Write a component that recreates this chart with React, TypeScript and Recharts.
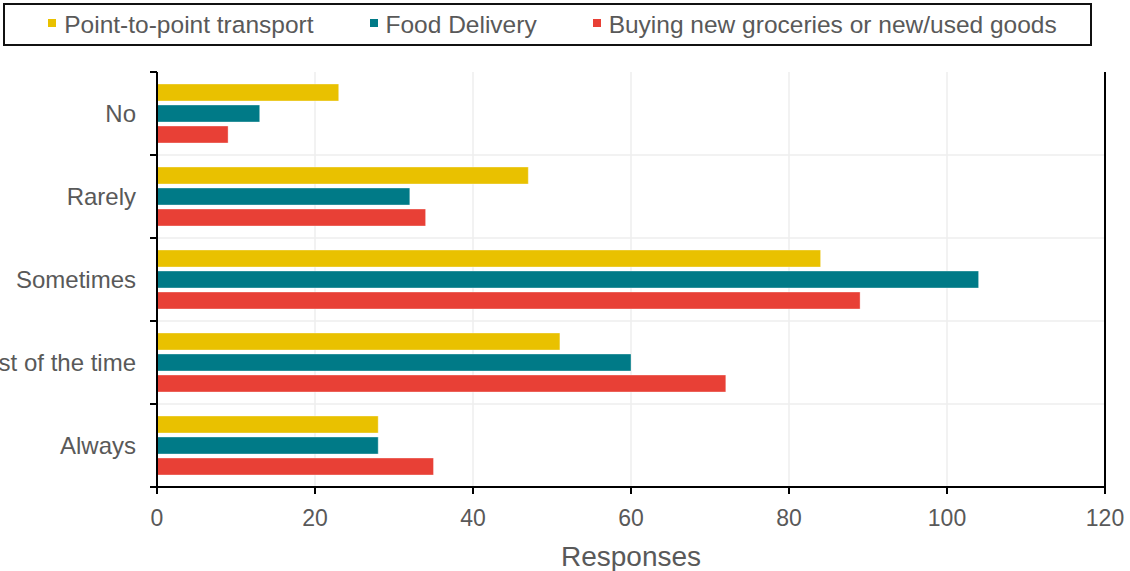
import React from "react";
import {
  BarChart, Bar, XAxis, YAxis, CartesianGrid, ReferenceLine,
} from "recharts";

const categories = ["No", "Rarely", "Sometimes", "Most of the time", "Always"];
const transport = [23, 47, 84, 51, 28];
const delivery = [13, 32, 104, 60, 28];
const goods = [9, 34, 89, 72, 35];
const xTicks = [0, 20, 40, 60, 80, 100, 120];

const SERIES = [
  { key: "transport", name: "Point-to-point transport", color: "#E9C100" },
  { key: "delivery", name: "Food Delivery", color: "#007A87" },
  { key: "goods", name: "Buying new groceries or new/used goods", color: "#E84036" },
];

const data = categories.map((c, i) => ({
  category: c,
  transport: transport[i],
  delivery: delivery[i],
  goods: goods[i],
}));

const W = 1130;
const H = 571;
const M = { top: 72, right: 25, bottom: 0, left: 0 };
const X_AXIS_H = 84;
const Y_AXIS_W = 157;
const BAND = (H - M.top - X_AXIS_H) / categories.length;
const FONT = '"Liberation Sans", Arial, sans-serif';
const TXT = "#595959";

const YTick = ({ x, y, payload, index }: any) => (
  <g>
    <text x={x - 21} y={y} dy="0.36em" textAnchor="end" fontSize={24} fill={TXT} fontFamily={FONT}>
      {payload.value}
    </text>
    <line x1={x - 7} x2={x} y1={y + BAND / 2} y2={y + BAND / 2} stroke="#000" strokeWidth={2} />
    {index === 0 && <line x1={x - 7} x2={x} y1={y - BAND / 2} y2={y - BAND / 2} stroke="#000" strokeWidth={2} />}
  </g>
);

const XTick = ({ x, y, payload }: any) => (
  <text x={x} y={y + 22} dy="0.36em" textAnchor="middle" fontSize={23} fill={TXT} fontFamily={FONT}>
    {payload.value}
  </text>
);

const LegendBox = () => (
  <div style={{
    position: "absolute", left: 3, top: 3, width: 1089, height: 43, boxSizing: "border-box",
    border: "2px solid #111", display: "flex", alignItems: "center", justifyContent: "center",
    gap: 56, fontFamily: FONT, fontSize: 24.5, color: TXT, background: "#fff", paddingLeft: 10,
  }}>
    {SERIES.map((s) => (
      <span key={s.key} style={{ display: "flex", alignItems: "center", gap: 8 }}>
        <span style={{ width: 8, height: 8, background: s.color, display: "inline-block", marginTop: -3 }} />
        {s.name}
      </span>
    ))}
  </div>
);

export default function App() {
  return (
    <div style={{ position: "absolute", left: 0, top: 0, width: W, height: H, background: "#fff" }}>
      <BarChart width={W} height={H} data={data} layout="vertical" margin={M}
        barCategoryGap={12} barGap={4}>
        <CartesianGrid stroke="#eeeeee" strokeWidth={1.5}
          horizontalCoordinatesGenerator={({ offset }: any) =>
            categories.map((_, i) => offset.top + (offset.height / categories.length) * i).slice(1)} />
        <XAxis type="number" dataKey="transport" domain={[0, 120]} ticks={xTicks} height={X_AXIS_H}
          axisLine={{ stroke: "#000", strokeWidth: 2 }} tickLine={{ stroke: "#000", strokeWidth: 2 }}
          tickSize={7} tick={<XTick />} interval={0}
          label={{ value: "Responses", position: "insideBottom", offset: 5, fontSize: 28, fill: TXT, fontFamily: FONT }} />
        <XAxis xAxisId="top" type="number" orientation="top" domain={[0, 120]} height={0}
          tick={false} tickLine={false} axisLine={{ stroke: "#000", strokeWidth: 2 }} />
        <YAxis type="category" dataKey="category" width={Y_AXIS_W} interval={0}
          axisLine={{ stroke: "#000", strokeWidth: 2 }} tickLine={false} tickSize={0} tickMargin={0}
          tick={<YTick />} />
        <ReferenceLine x={120} stroke="#000" strokeWidth={2} />
        {SERIES.map((s) => (
          <Bar key={s.key} dataKey={s.key} name={s.name} fill={s.color}
            stroke="rgba(255,255,255,0.35)" strokeWidth={1} isAnimationActive={false} />
        ))}
      </BarChart>
      <LegendBox />
    </div>
  );
}
